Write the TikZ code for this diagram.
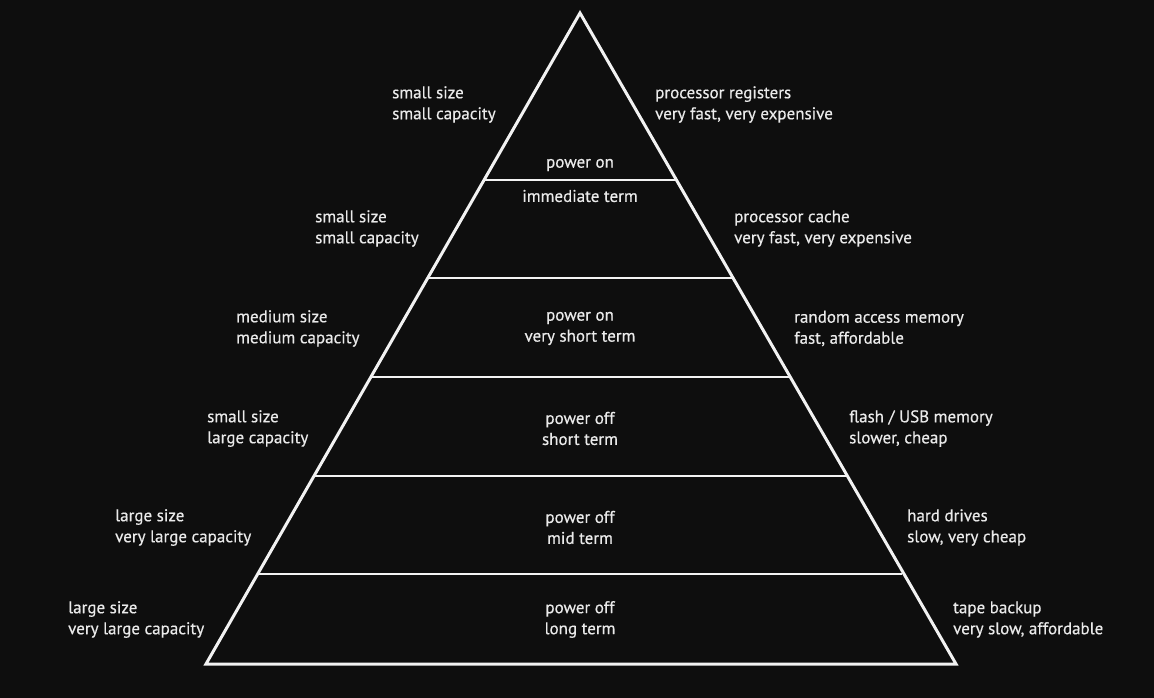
\documentclass[tikz,border=0pt]{standalone}
\usepackage{fontspec}
\setmainfont{PT Sans}[UprightFeatures={FakeBold=0.5}]
\definecolor{bg}{HTML}{0E0E0E}
\definecolor{ink}{HTML}{F2F2F2}
\definecolor{txt}{HTML}{EAEAEA}
\begin{document}
\begin{tikzpicture}[x=1pt,y=-1pt,
  lbl/.style={text=txt,font=\fontsize{17}{21}\selectfont,align=left,anchor=west,inner sep=0pt},
  mid/.style={text=txt,font=\fontsize{17}{21}\selectfont,align=center,inner sep=0pt},
  edge/.style={draw=ink,line width=3pt,line join=miter},
  tier/.style={draw=ink,line width=2.6pt}]
\fill[bg] (0,0) rectangle (1154,698);
\useasboundingbox (0,0) rectangle (1154,698);
\coordinate (apex) at (580,13);
\coordinate (bl) at (206,664);
\coordinate (br) at (956,664);
\draw[edge] (apex) -- (br) -- (bl) -- cycle;
\foreach \y [count=\i] in {180,278,377,476,574}{
  \pgfmathsetmacro{\dx}{(\y-13)*0.5745}
  \coordinate (l\i) at ({580-\dx},\y);
  \coordinate (r\i) at ({580+\dx},\y);
  \draw[tier] (l\i) -- (r\i);
}
% left labels
\node[lbl] (a1) at (392,104.5) {small size\\small capacity};
\node[lbl] (a2) at (315,228.5) {small size\\small capacity};
\node[lbl] (a3) at (236,328.5) {medium size\\medium capacity};
\node[lbl] (a4) at (207,428.5) {small size\\large capacity};
\node[lbl] (a5) at (115,527.5) {large size\\very large capacity};
\node[lbl] (a6) at (68,619.5) {large size\\very large capacity};
% right labels
\node[lbl] (b1) at (655,104.5) {processor registers\\very fast, very expensive};
\node[lbl] (b2) at (734,228.5) {processor cache\\very fast, very expensive};
\node[lbl] (b3) at (794,328.5) {random access memory\\fast, affordable};
\node[lbl] (b4) at (849,428.5) {flash / USB memory\\slower, cheap};
\node[lbl] (b5) at (907,527.5) {hard drives\\slow, very cheap};
\node[lbl] (b6) at (953,619.5) {tape backup\\very slow, affordable};
% middle labels
\node[mid] (c1a) at (580,165) {power on};
\node[mid] (c1b) at (580,196) {immediate term};
\node[mid] (c3) at (580,328.5) {power on\\very short term};
\node[mid] (c4) at (580,428.5) {power off\\short term};
\node[mid] (c5) at (580,527.5) {power off\\mid term};
\node[mid] (c6) at (580,619.5) {power off\\long term};
\end{tikzpicture}
\end{document}
